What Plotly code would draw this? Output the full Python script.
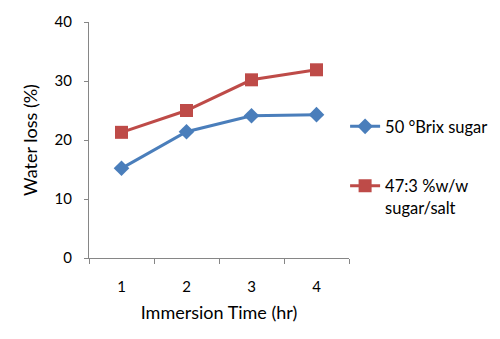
import plotly.graph_objects as go

categories = ["1", "2", "3", "4"]
sugar = [15.2, 21.4, 24.1, 24.3]
sugar_salt = [21.3, 25.0, 30.2, 31.9]
y_ticks = [0, 10, 20, 30, 40]

font_family = "Lato, Open Sans, Liberation Sans, sans-serif"
axis_color = "#868686"

fig = go.Figure()
fig.add_trace(go.Scatter(
    x=categories, y=sugar, mode="lines+markers", name="50 °Brix sugar",
    line=dict(color="#4A7EBB", width=3),
    marker=dict(symbol="diamond", size=12, color="#4A7EBB"),
    legendgroup="a",
))
fig.add_trace(go.Scatter(
    x=categories, y=sugar_salt, mode="lines+markers", name="47:3 %w/w<br>sugar/salt",
    line=dict(color="#BE4B48", width=3),
    marker=dict(symbol="square", size=13, color="#BE4B48"),
    legendgroup="b",
))

fig.update_layout(
    width=500, height=339,
    margin=dict(l=81, r=159, t=14, b=89, autoexpand=False),
    paper_bgcolor="white", plot_bgcolor="white",
    font=dict(family=font_family, size=15, color="#000000"),
    xaxis=dict(
        type="category", range=[-0.5, 3.5], automargin=False,
        showline=True, linecolor=axis_color, linewidth=1,
        ticks="outside", tickson="boundaries", ticklen=5, tickcolor=axis_color,
        ticklabelstandoff=15,
        showgrid=False, zeroline=False,
        title=dict(text="Immersion Time (hr)", standoff=12),
    ),
    yaxis=dict(
        range=[0, 40], tickvals=y_ticks, automargin=False,
        showline=True, linecolor=axis_color, linewidth=1,
        ticks="outside", ticklen=4, tickcolor=axis_color,
        ticklabelstandoff=9,
        showgrid=False, zeroline=False,
        title=dict(text="Water loss (%)", standoff=12),
    ),
    legend=dict(
        x=0.985, y=0.385, xanchor="left", yanchor="middle",
        tracegroupgap=35, valign="top",
        font=dict(size=16.5),
    ),
)

fig.write_html("out.html")
